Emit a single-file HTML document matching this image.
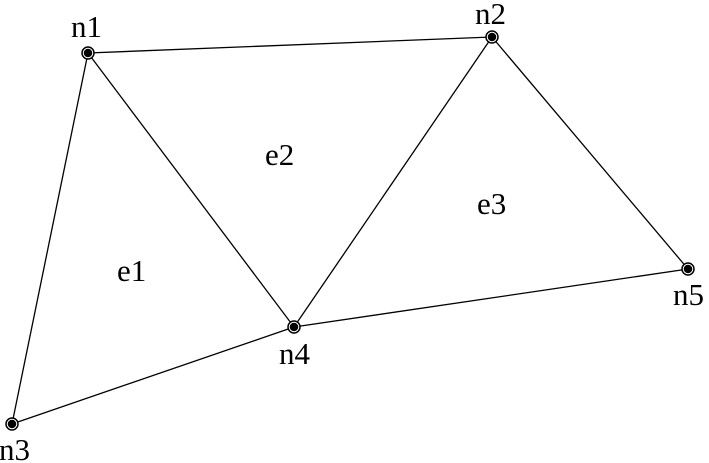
<!DOCTYPE html>
<html><head><style>body{margin:0;background:#fff}svg{display:block}</style></head><body>
<svg width="709" height="463" xmlns="http://www.w3.org/2000/svg" font-family="Liberation Serif, serif" font-size="31" fill="#000">
<g stroke="#000" stroke-width="1.3" fill="none">
<line x1="88" y1="53" x2="492" y2="37"/>
<line x1="88" y1="53" x2="12" y2="424"/>
<line x1="88" y1="53" x2="294" y2="327"/>
<line x1="492" y1="37" x2="294" y2="327"/>
<line x1="492" y1="37" x2="688" y2="269"/>
<line x1="12" y1="424" x2="294" y2="327"/>
<line x1="294" y1="327" x2="688" y2="269"/>
</g>
<g stroke="#000" stroke-width="1.5" fill="#000">
<g><circle cx="88" cy="53" r="6" fill="#fff"/><circle cx="88" cy="53" r="3.5"/></g>
<g><circle cx="492" cy="37" r="6" fill="#fff"/><circle cx="492" cy="37" r="3.5"/></g>
<g><circle cx="12" cy="424" r="6" fill="#fff"/><circle cx="12" cy="424" r="3.5"/></g>
<g><circle cx="294" cy="327" r="6" fill="#fff"/><circle cx="294" cy="327" r="3.5"/></g>
<g><circle cx="688" cy="269" r="6" fill="#fff"/><circle cx="688" cy="269" r="3.5"/></g>
</g>
<text x="71" y="37">n1</text>
<text x="475" y="24">n2</text>
<text x="-1" y="460">n3</text>
<text x="279" y="364">n4</text>
<text x="673" y="305">n5</text>
<text x="117" y="281">e1</text>
<text x="265" y="165">e2</text>
<text x="477" y="214">e3</text>
</svg>
</body></html>
